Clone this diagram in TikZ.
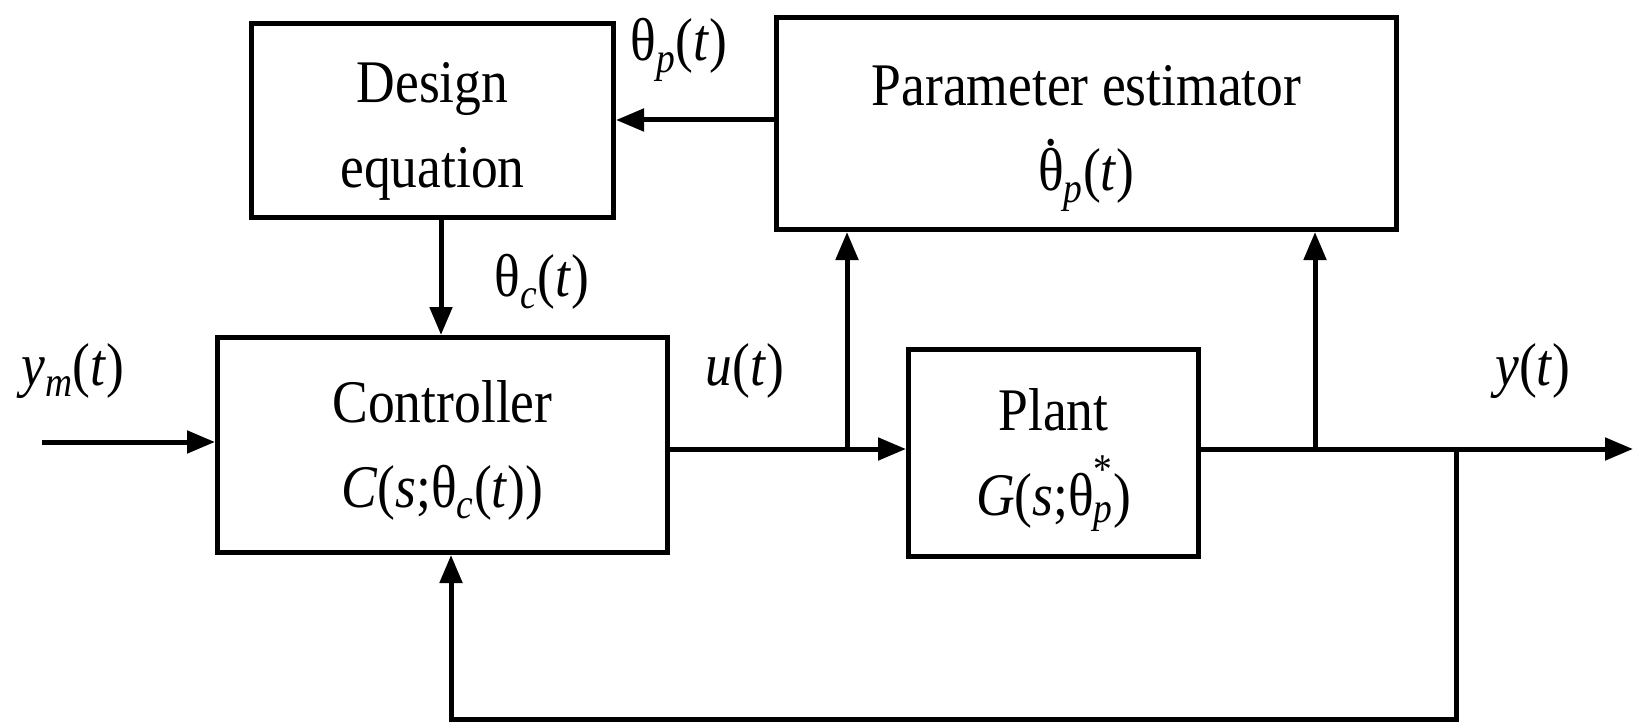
\documentclass[tikz,border=0pt]{standalone}
\usepackage{amsmath}
\usepackage{fontspec}
\setmainfont{LiberationSerif}[Extension=.ttf, UprightFont=*-Regular, ItalicFont=*-Italic, BoldFont=*-Bold, BoldItalicFont=*-BoldItalic, FakeStretch=0.885]
\usetikzlibrary{arrows.meta}
\newcommand\tht{\text{θ}}
\newcommand\dtht{\setbox0\hbox{θ}\rlap{\hbox to \wd0{\hss\raisebox{0.76em}{.}\hss}}\box0}
\newcommand\twolines[3]{\raisebox{-#1}[\height][\depth]{\begin{tabular}{@{}c@{}}#2\\#3\end{tabular}}}
\begin{document}
\begin{tikzpicture}[x=1pt,y=-1pt,
  blk/.style={draw, line width=5pt, inner sep=0pt, font=\fontsize{60.5}{85}\selectfont},
  lbl/.style={font=\fontsize{60.5}{64}\selectfont, inner sep=0pt},
  conn/.style={line width=5pt, -{Triangle[length=28pt,width=22pt]}}]
\useasboundingbox (0,0) rectangle (1633,722);
% blocks
\node[blk, minimum width=362pt, minimum height=194pt] (de) at (432.5,120.5) {\twolines{8pt}{Design}{equation}};
\node[blk, minimum width=620pt, minimum height=212pt] (pe) at (1086.5,123.5) {\twolines{8pt}{Parameter estimator}{\dtht\textsubscript{\textit{p}}(\textit{t})}};
\node[blk, minimum width=450pt, minimum height=215pt] (ctrl) at (442.5,445) {\twolines{3pt}{Controller}{\textit{C}(\textit{s};θ\textsubscript{\textit{c}}(\textit{t}))}};
\node[blk, minimum width=290pt, minimum height=207pt] (plant) at (1053.5,453) {\twolines{3pt}{Plant}{\textit{G}(\textit{s};$\tht^{\text{*}}_{\textit{p}}$)}};
% labels
\node[lbl] (lthp) at (679,50) {θ\textsubscript{\textit{p}}(\textit{t})};
\node[lbl] (lthc) at (542,282) {θ\textsubscript{\textit{c}}(\textit{t})};
\node[lbl] (lym) at (73,371) {\textit{y}\textsubscript{\textit{m}}(\textit{t})};
\node[lbl] (lu) at (745,371) {\textit{u}(\textit{t})};
\node[lbl] (ly) at (1533,371) {\textit{y}(\textit{t})};
% coordinates
\coordinate (ya) at (0,120);
\coordinate (xd) at (441,0);
\coordinate (in) at (42,442);
\coordinate (yo) at (0,449);
\coordinate (b1) at (847,449);
\coordinate (b2) at (1315,449);
\coordinate (b3) at (1456,449);
\coordinate (fb) at (451,719);
\coordinate (out) at (1633,449);
% connectors
\draw[conn] (pe.west |- ya) -- (de.east |- ya);
\draw[conn] (de.south -| xd) -- (ctrl.north -| xd);
\draw[conn] (in) -- (in -| ctrl.west);
\draw[conn] (ctrl.east |- yo) -- (plant.west |- yo);
\draw[conn] (b1) -- (b1 |- pe.south);
\draw[conn] (plant.east |- yo) -- (out);
\draw[conn] (b2) -- (b2 |- pe.south);
\draw[conn] (b3) |- (fb) -- (fb |- ctrl.south);
\end{tikzpicture}
\end{document}
